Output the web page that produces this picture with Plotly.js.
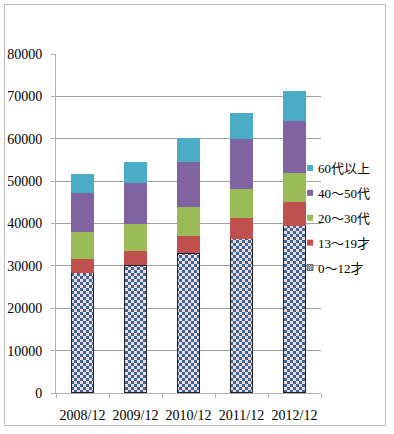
<!DOCTYPE html>
<html><head><meta charset="utf-8">
<script src="https://cdn.plot.ly/plotly-3.0.1.min.js"></script>
<style>
html,body{margin:0;padding:0;background:#fff;}
#wrap{position:relative;width:394px;height:434px;}
#frame{position:absolute;left:4px;top:4px;width:382px;height:422px;border:1.5px solid #bdbdbd;box-sizing:border-box;pointer-events:none;}
#chart{position:absolute;left:0;top:0;width:394px;height:434px;}
</style></head>
<body><div id="wrap"><div id="chart"></div><div id="frame"></div></div>
<script>
const categories = ['2008/12','2009/12','2010/12','2011/12','2012/12'];
const seriesNames = ['0～12才','13～19才','20～30代','40～50代','60代以上'];
const age0_12  = [28400, 30100, 33000, 36400, 39500];
const age13_19 = [3200, 3500, 4100, 5000, 5600];
const age20_30 = [6500, 6400, 6800, 6800, 6800];
const age40_50 = [9000, 9500, 10500, 11700, 12400];
const age60up  = [4600, 4900, 5700, 6100, 6900];
const yTicks = [0,10000,20000,30000,40000,50000,60000,70000,80000];

const colors = ['#3A66A0','#C0504D','#9BBB59','#8064A2','#4BACC6'];
const values = [age0_12, age13_19, age20_30, age40_50, age60up];
const checkerFg = '#3A66A0', checkerBg = '#F2DCDB';

const traces = values.map((v,i)=>{
  const t = {type:'bar', name:seriesNames[i], x:categories, y:v, legendgroup:'g'+i,
    legendrank: values.length - i,
    marker:{color:colors[i], line:{width:0}}, hoverinfo:'y+name'};
  if(i===0){
    t.marker = {color:checkerBg, line:{width:1.2, color:'#222'},
      pattern:{shape:'.', fgcolor:checkerFg, bgcolor:checkerBg, size:6, solidity:0.5, fillmode:'replace'}};
  }
  return t;
});

const tickFont = 'Liberation Serif';
const legFont = 'Liberation Serif, Noto Sans CJK JP';
const layout = {
  width:394, height:434,
  margin:{l:56, r:73, t:54, b:41},
  paper_bgcolor:'rgba(0,0,0,0)', plot_bgcolor:'rgba(0,0,0,0)',
  barmode:'stack', bargap:0.58,
  showlegend:true,
  legend:{x:0.838, xanchor:'left', y:0.708, yanchor:'top', traceorder:'grouped',
    tracegroupgap:5, bgcolor:'rgba(0,0,0,0)',
    font:{family:legFont, size:13, color:'#000'}},
  xaxis:{type:'category', tickmode:'array', tickvals:categories, ticktext:categories,
    ticks:'outside', ticklen:4, tickcolor:'#b0b0b0', tickson:'boundaries',
    showline:true, linecolor:'#b0b0b0', linewidth:1, showgrid:false,
    tickangle:0, ticklabelstandoff:9,
    tickfont:{family:tickFont, size:14, color:'#000'}},
  yaxis:{range:[0,80000], tickmode:'array', tickvals:yTicks, ticktext:yTicks.map(String),
    ticks:'outside', ticklen:4, tickcolor:'#b0b0b0',
    showline:true, linecolor:'#b0b0b0', linewidth:1,
    showgrid:true, gridcolor:'#a0a0a0', gridwidth:1, zeroline:false,
    ticklabelstandoff:6,
    tickfont:{family:tickFont, size:14, color:'#000'}}
};

const gd = document.getElementById('chart');
const SVGNS = 'http://www.w3.org/2000/svg';
function fixup(){
  gd.querySelectorAll('pattern').forEach(p=>{
    const s = parseFloat(p.getAttribute('width')) || 6;
    const h = s/2;
    while(p.firstChild) p.removeChild(p.firstChild);
    const r = document.createElementNS(SVGNS,'rect');
    r.setAttribute('x',0); r.setAttribute('y',0); r.setAttribute('width',s); r.setAttribute('height',s);
    r.setAttribute('fill',checkerBg);
    p.appendChild(r);
    const path = document.createElementNS(SVGNS,'path');
    path.setAttribute('d', `M0,0H${h}V${h}H0Z M${h},${h}H${s}V${s}H${h}Z`);
    path.setAttribute('fill',checkerFg);
    p.appendChild(path);
  });
  gd.querySelectorAll('.legend .legendpoints path').forEach(path=>{
    if(!path.dataset.scaled){
      const tr = path.getAttribute('transform') || '';
      path.setAttribute('transform', tr + ' translate(12,0) scale(0.5)');
      path.dataset.scaled = '1';
    }
  });
}
Plotly.newPlot(gd, traces, layout, {displayModeBar:false, staticPlot:true}).then(fixup);
</script></body></html>
